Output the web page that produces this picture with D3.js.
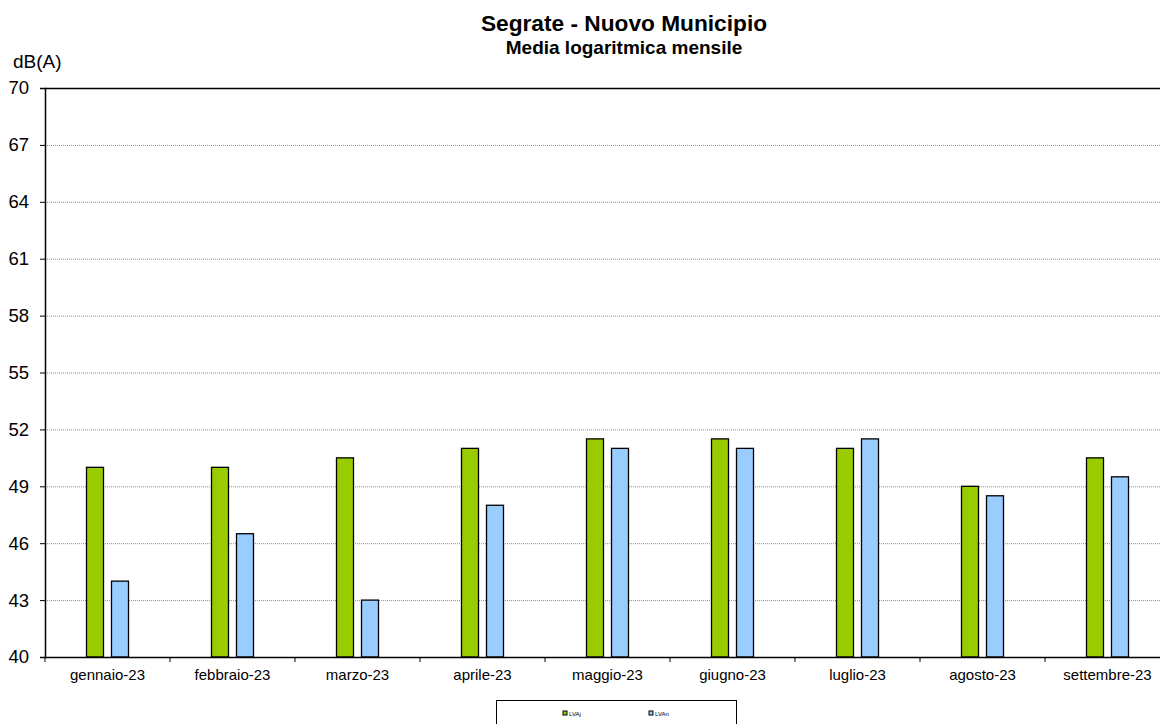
<!DOCTYPE html>
<html><head><meta charset="utf-8">
<script src="https://cdn.jsdelivr.net/npm/d3@7/dist/d3.min.js"></script>
<style>body{margin:0;background:#fff}svg{display:block;font-family:Arial,"Liberation Sans",sans-serif}</style>
</head><body><svg id="c" width="1160" height="724"></svg>
<script>
const categories = ["gennaio-23","febbraio-23","marzo-23","aprile-23","maggio-23","giugno-23","luglio-23","agosto-23","settembre-23"];
const seriesNames = ["LVAj","LVAn"];
const lvaj = [50, 50, 50.5, 51, 51.5, 51.5, 51, 49, 50.5];
const lvan = [44, 46.5, 43, 48, 51, 51, 51.5, 48.5, 49.5];
const yTicks = [40,43,46,49,52,55,58,61,64,67,70];
const colors = ["#99cc00","#99ccff"];

const svg = d3.select("#c");
const L = 45, R = 1170, T = 88, B = 657;
const x = d3.scaleBand().domain(categories).range([L, R]);
const y = d3.scaleLinear().domain([40,70]).range([B, T]);
const FF = "Arial, 'Liberation Sans', sans-serif";

// gridlines
svg.append("g").selectAll("line").data(yTicks.filter(t=>t>40&&t<70)).join("line")
  .attr("x1", L).attr("x2", R).attr("y1", d=>y(d)+0.5).attr("y2", d=>y(d)+0.5)
  .attr("stroke", "#8a8a8a").attr("stroke-width", 1).attr("stroke-dasharray", "1,1");
// top border
svg.append("line").attr("x1", L).attr("x2", R).attr("y1", T+0.5).attr("y2", T+0.5).attr("stroke","#000").attr("stroke-width",1.5);

// bars
const bw = 17, gap = 8;
const data = [lvaj, lvan];
data.forEach((vals, s) => {
  svg.append("g").selectAll("rect").data(vals).join("rect")
    .attr("x", (d,i) => x(categories[i]) + x.bandwidth()/2 - bw - gap/2 + s*(bw+gap))
    .attr("y", d => y(d))
    .attr("width", bw)
    .attr("height", d => B - y(d))
    .attr("fill", colors[s]).attr("stroke", "#000").attr("stroke-width", 1.3);
});

// y axis
const ya = svg.append("g").attr("transform", `translate(${L},0)`)
  .call(d3.axisLeft(y).tickValues(yTicks).tickSize(5).tickPadding(11));
ya.select(".domain").attr("stroke","#000").attr("stroke-width",1.5);
ya.selectAll("text").attr("font-size", 18.5).attr("fill","#000").attr("font-family",FF);

// x axis
const xa = svg.append("g").attr("transform", `translate(0,${B})`)
  .call(d3.axisBottom(x).tickSize(0).tickPadding(12));
xa.select(".domain").attr("stroke","#000").attr("stroke-width",1.5);
xa.selectAll("text").attr("font-size", 15).attr("fill","#000").attr("font-family",FF);
// category boundary ticks
svg.append("g").selectAll("line").data(categories.concat(["end"])).join("line")
  .attr("x1", (d,i)=> i<categories.length ? x(d) : R).attr("x2", (d,i)=> i<categories.length ? x(d) : R)
  .attr("y1", B).attr("y2", B+5).attr("stroke","#000");

// titles
svg.append("text").attr("x", 624).attr("y", 31).attr("text-anchor","middle")
  .attr("font-size", 22.7).attr("font-weight","bold").text("Segrate - Nuovo Municipio");
svg.append("text").attr("x", 624).attr("y", 54).attr("text-anchor","middle")
  .attr("font-size", 19).attr("font-weight","bold").text("Media logaritmica mensile");
svg.append("text").attr("x", 13).attr("y", 68).attr("font-size", 19).text("dB(A)");

// legend
const lg = svg.append("g");
lg.append("rect").attr("x", 496.5).attr("y", 700.5).attr("width", 240).attr("height", 40)
  .attr("fill","#fff").attr("stroke","#000").attr("stroke-width",1);
const lx = [563, 649];
seriesNames.forEach((n,i)=>{
  lg.append("rect").attr("x", lx[i]).attr("y", 711).attr("width", 4).attr("height", 4)
    .attr("fill", colors[i]).attr("stroke","#000").attr("stroke-width",1);
  lg.append("text").attr("x", lx[i]+6).attr("y", 716).attr("font-size", 6).text(n);
});
</script></body></html>
